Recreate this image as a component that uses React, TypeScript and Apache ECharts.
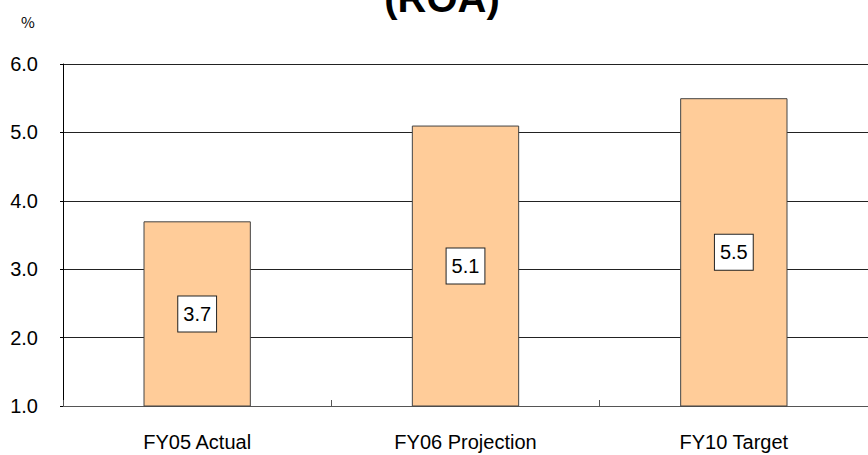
import React, { useEffect, useRef } from "react";
import * as echarts from "echarts";

const categories = ["FY05 Actual", "FY06 Projection", "FY10 Target"];
const roaValues = [3.7, 5.1, 5.5];
const yTicks = { min: 1, max: 6, interval: 1 };

export default function App() {
  const ref = useRef<HTMLDivElement>(null);

  useEffect(() => {
    if (!ref.current) return;
    const chart = echarts.init(ref.current, undefined, { renderer: "svg" });
    const font = '"Liberation Sans", Arial, sans-serif';
    chart.setOption({
      animation: false,
      backgroundColor: "#ffffff",
      textStyle: { fontFamily: font },
      grid: { left: 63, top: 64, bottom: 49, width: 809, containLabel: false },
      graphic: [
        {
          type: "text",
          x: 442,
          y: 18,
          style: {
            text: "(ROA)",
            font: `bold 40px ${font}`,
            fill: "#000",
            textAlign: "center",
            textVerticalAlign: "bottom",
          },
        },
        {
          type: "text",
          x: 28,
          y: 21,
          style: {
            text: "%",
            font: `15px "Noto Sans CJK JP", ${font}`,
            fill: "#000",
            textAlign: "center",
            textVerticalAlign: "middle",
          },
        },
      ],
      xAxis: {
        type: "category",
        data: categories,
        axisLine: { lineStyle: { color: "#555", width: 1 } },
        axisTick: { show: true, inside: true, length: 6, alignWithLabel: false, lineStyle: { color: "#555" } },
        axisLabel: { color: "#000", fontSize: 20, margin: 26, fontFamily: font },
        splitLine: { show: false },
      },
      yAxis: {
        type: "value",
        min: yTicks.min,
        max: yTicks.max,
        interval: yTicks.interval,
        axisLine: { show: true, lineStyle: { color: "#000", width: 1 } },
        axisTick: { show: true, inside: false, length: 3, lineStyle: { color: "#000" } },
        axisLabel: {
          color: "#000",
          fontSize: 20,
          margin: 25,
          fontFamily: font,
          formatter: (v: number) => v.toFixed(1),
        },
        splitLine: { show: true, lineStyle: { color: "#222", width: 1 } },
      },
      series: [
        {
          type: "bar",
          data: roaValues,
          barWidth: "40%",
          itemStyle: { color: "#FFCC99", borderColor: "#444", borderWidth: 1 },
          label: {
            show: true,
            position: "inside",
            formatter: (p: any) => Number(p.value).toFixed(1),
            color: "#000",
            fontSize: 20,
            fontFamily: font,
            backgroundColor: "#ffffff",
            borderColor: "#222",
            borderWidth: 1,
            padding: [8, 5, 7, 5],
          },
        },
      ],
    });
    return () => chart.dispose();
  }, []);

  return (
    <div
      ref={ref}
      style={{ position: "absolute", left: 0, top: 0, width: 868, height: 455 }}
    />
  );
}
